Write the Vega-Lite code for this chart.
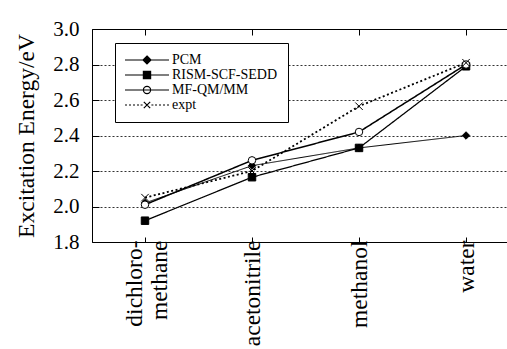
{
  "$schema": "https://vega.github.io/schema/vega-lite/v6.json",
  "width": 415,
  "height": 213,
  "autosize": {"type": "none"},
  "padding": {"left": 92, "top": 29, "right": 0, "bottom": 107},
  "background": "white",
  "config": {
    "view": {"stroke": null},
    "font": "Liberation Serif",
    "axis": {"domainColor": "black", "tickColor": "black", "labelColor": "black", "titleColor": "black", "labelFont": "Liberation Serif", "titleFont": "Liberation Serif"},
    "legend": {"labelFont": "Liberation Serif"}
  },
  "data": {
    "values": [
      {"solvent": "dichloro-methane", "method": "PCM", "value": 2.02},
      {"solvent": "acetonitrile", "method": "PCM", "value": 2.23},
      {"solvent": "methanol", "method": "PCM", "value": 2.33},
      {"solvent": "water", "method": "PCM", "value": 2.40},
      {"solvent": "dichloro-methane", "method": "RISM-SCF-SEDD", "value": 1.92},
      {"solvent": "acetonitrile", "method": "RISM-SCF-SEDD", "value": 2.165},
      {"solvent": "methanol", "method": "RISM-SCF-SEDD", "value": 2.33},
      {"solvent": "water", "method": "RISM-SCF-SEDD", "value": 2.79},
      {"solvent": "dichloro-methane", "method": "MF-QM/MM", "value": 2.01},
      {"solvent": "acetonitrile", "method": "MF-QM/MM", "value": 2.26},
      {"solvent": "methanol", "method": "MF-QM/MM", "value": 2.42},
      {"solvent": "water", "method": "MF-QM/MM", "value": 2.80},
      {"solvent": "dichloro-methane", "method": "expt", "value": 2.05},
      {"solvent": "acetonitrile", "method": "expt", "value": 2.20},
      {"solvent": "methanol", "method": "expt", "value": 2.565},
      {"solvent": "water", "method": "expt", "value": 2.81}
    ]
  },
  "layer": [
    {
      "mark": {"type": "line", "color": "black"},
      "encoding": {
        "x": {
          "field": "solvent", "type": "nominal",
          "sort": ["dichloro-methane", "acetonitrile", "methanol", "water"],
          "scale": {"type": "point", "padding": 0.439, "align": 0.564},
          "axis": {
            "title": null, "orient": "bottom", "labelAngle": 270, "labelAlign": "right", "labelBaseline": "middle",
            "labelFontSize": 23.5, "labelLineHeight": 25, "labelPadding": 3, "tickSize": -5, "labelOverlap": false,
            "labelOffset": {"condition": {"test": "datum.value == 'dichloro-methane'", "value": -10}, "value": 0},
            "labelExpr": "datum.label == 'dichloro-methane' ? ['dichloro-', 'methane'] : datum.label",
            "grid": false, "domainColor": "black"
          }
        },
        "y": {
          "field": "value", "type": "quantitative",
          "scale": {"domain": [1.8, 3.0], "nice": false, "zero": false},
          "axis": {
            "title": "Excitation Energy/eV", "values": [1.8, 2.0, 2.2, 2.4, 2.6, 2.8, 3.0], "format": ".1f",
            "labelOverlap": false, "tickCount": 7,
            "tickSize": -7, "labelPadding": 20, "labelFontSize": 21, "titleFontSize": 23.5, "titleFontWeight": "normal",
            "titlePadding": 14, "grid": true, "gridDash": [2, 2], "gridColor": "#333333", "gridWidth": 1
          }
        },
        "strokeDash": {
          "field": "method", "type": "nominal",
          "scale": {"domain": ["PCM", "RISM-SCF-SEDD", "MF-QM/MM", "expt"], "range": [[1, 0], [1, 0], [1, 0], [2, 2.5]]},
          "legend": null
        },
        "strokeWidth": {
          "field": "method", "type": "ordinal",
          "scale": {"domain": ["PCM", "RISM-SCF-SEDD", "MF-QM/MM", "expt"], "range": [1, 1.8, 1.4, 1.6]},
          "legend": null
        }
      }
    },
    {
      "mark": {"type": "point", "filled": true, "stroke": "black", "strokeWidth": 1, "size": 56, "opacity": 1},
      "encoding": {
        "x": {"field": "solvent", "type": "nominal", "sort": ["dichloro-methane", "acetonitrile", "methanol", "water"], "axis": null},
        "y": {"field": "value", "type": "quantitative"},
        "shape": {
          "field": "method", "type": "nominal",
          "scale": {"domain": ["PCM", "RISM-SCF-SEDD", "MF-QM/MM", "expt"], "range": ["diamond", "square", "circle", "M-1,-1L1,1M-1,1L1,-1"]},
          "legend": null
        },
        "fill": {
          "field": "method", "type": "nominal",
          "scale": {"domain": ["PCM", "RISM-SCF-SEDD", "MF-QM/MM", "expt"], "range": ["black", "black", "white", "black"]},
          "legend": null
        }
      }
    },
    {
      "mark": {"type": "point", "filled": false, "stroke": "black", "opacity": 0},
      "encoding": {
        "x": {
          "field": "solvent", "type": "nominal", "sort": ["dichloro-methane", "acetonitrile", "methanol", "water"],
          "axis": {"orient": "top", "labels": false, "title": null, "tickSize": -6, "grid": false, "domainColor": "black"}
        },
        "y": {"field": "value", "type": "quantitative"},
        "shape": {
          "field": "method", "type": "nominal",
          "scale": {
            "domain": ["PCM", "RISM-SCF-SEDD", "MF-QM/MM", "expt"],
            "range": [
              "M-5.5,0H5.5M0,-1L1,0L0,1L-1,0Z",
              "M-5.5,0H5.5M-0.9,-0.9H0.9V0.9H-0.9Z",
              "M-5.5,0H5.5M-0.9,0A0.9,0.9,0,1,1,0.9,0A0.9,0.9,0,1,1,-0.9,0Z",
              "M-5.5,0H-5M-4.5,0H-4M-3.5,0H-3M-2.5,0H-2M-1.6,0H-1.1M-0.8,-0.8L0.8,0.8M-0.8,0.8L0.8,-0.8M1.1,0H1.6M2,0H2.5M3,0H3.5M4,0H4.5M5,0H5.5"
            ]
          },
          "legend": {
            "title": null, "orient": "none", "legendX": 23, "legendY": 14, "symbolSize": 64,
            "symbolStrokeColor": "black", "symbolStrokeWidth": 1.2, "symbolOpacity": 1,
            "labelFontSize": 14, "labelFont": "Liberation Serif", "labelColor": "black", "rowPadding": 1,
            "padding": 10, "strokeColor": "black", "fillColor": "white", "symbolOffset": 15, "labelOffset": 18,
            "encode": {"symbols": {"update": {"stroke": {"value": "black"}, "strokeWidth": {"value": 1.2}, "opacity": {"value": 1}}}}
          }
        },
        "fill": {
          "field": "method", "type": "nominal",
          "scale": {"domain": ["PCM", "RISM-SCF-SEDD", "MF-QM/MM", "expt"], "range": ["black", "black", "white", "black"]},
          "legend": {
            "title": null, "orient": "none", "legendX": 23, "legendY": 14, "symbolSize": 64,
            "symbolStrokeColor": "black", "symbolStrokeWidth": 1.2, "symbolOpacity": 1,
            "labelFontSize": 14, "labelFont": "Liberation Serif", "labelColor": "black", "rowPadding": 1,
            "padding": 10, "strokeColor": "black", "fillColor": "white", "symbolOffset": 15, "labelOffset": 18,
            "encode": {"symbols": {"update": {"stroke": {"value": "black"}, "strokeWidth": {"value": 1.2}, "opacity": {"value": 1}}}}
          }
        }
      }
    }
  ],
  "resolve": {
    "scale": {"shape": "independent", "fill": "independent", "strokeDash": "independent", "strokeWidth": "independent"},
    "axis": {"x": "independent"}
  }
}
